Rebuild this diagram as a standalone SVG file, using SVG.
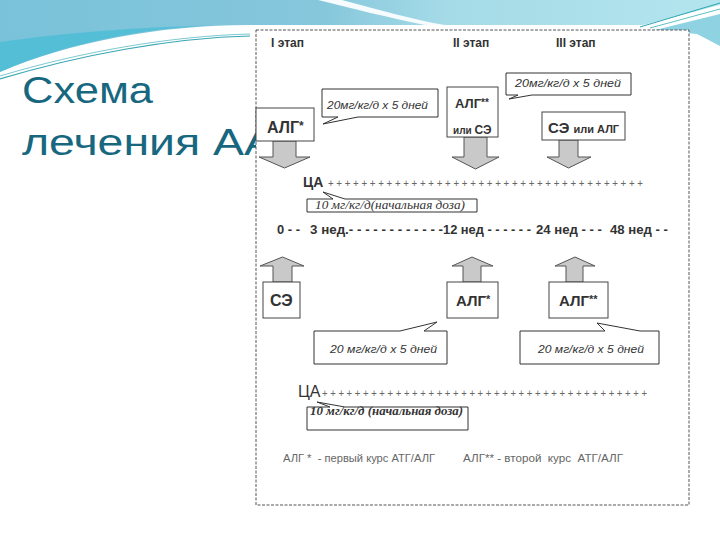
<svg xmlns="http://www.w3.org/2000/svg" width="720" height="540" viewBox="0 0 720 540">
<defs>
<linearGradient id="sky" x1="0" y1="0" x2="1" y2="0">
<stop offset="0" stop-color="#79c2d9"/>
<stop offset="0.45" stop-color="#86c7dc"/>
<stop offset="0.62" stop-color="#a5dbe7"/>
<stop offset="1" stop-color="#b3e5ee"/>
</linearGradient>
<style>
.box{fill:#fff;stroke:#444;stroke-width:1}
.call{fill:#fff;stroke:#333;stroke-width:1}
.arr{fill:#c9c9c9;stroke:#555;stroke-width:1}
.b{font-family:"Liberation Sans",Arial,sans-serif;font-weight:bold;fill:#333}
.it{font-family:"Liberation Sans",Arial,sans-serif;font-style:italic;fill:#333;font-size:11px}
.sf{font-family:"Liberation Serif","Times New Roman",serif;font-style:italic;fill:#333}
.pl{font-family:"Liberation Sans",Arial,sans-serif;fill:#666;font-size:11px}
.lg{font-family:"Liberation Sans",Arial,sans-serif;fill:#666;font-size:10px;white-space:pre}
.pre{white-space:pre}
</style>
</defs>
<rect width="720" height="540" fill="#fff"/>
<g id="background">
<path d="M0,0 H720 V5 L643,25 H250 C160,25 70,42 0,72 Z" fill="url(#sky)"/>
<path d="M0,42 C70,32 150,26 240,25 C150,25 70,42 0,72 Z" fill="#45bcd6" opacity="0.7"/>
<path d="M318,0 H342 C380,10 415,20 445,25 H425 C390,18 350,8 318,0 Z" fill="#f6fcfd"/>
<path d="M655,30 L720,14 V46 L697,34 Z" fill="#8fd3e2"/>
<path d="M640,27 L720,3" stroke="#2aa7b0" stroke-width="1" fill="none"/>
<path d="M650,28 L720,9" stroke="#5cc2c4" stroke-width="1" fill="none"/>
<path d="M0,79 C80,55 170,38 250,36" stroke="#3aa6b4" stroke-width="1.2" fill="none"/>
<path d="M0,76 C80,52 170,36 250,34" stroke="#7cc9d0" stroke-width="1" fill="none"/>
</g>
<g id="title" font-family="'Liberation Sans',Arial,sans-serif" font-size="36" fill="#17687f">
<text x="22" y="103" textLength="131" lengthAdjust="spacingAndGlyphs">Схема</text>
<text x="22" y="155" textLength="253" lengthAdjust="spacingAndGlyphs">лечения АА</text>
</g>
<g id="frame">
<rect x="256" y="30" width="433" height="475" fill="#fff" stroke="#555" stroke-width="1" stroke-dasharray="3 1.5"/>
</g>
<g id="stages" class="b" font-size="12">
<text x="271" y="47">I этап</text>
<text x="453" y="47">II этап</text>
<text x="556" y="47">III этап</text>
</g>
<g id="connectors">
<path class="arr" d="M273,141 H296 V157 H310 L284.5,168 L259,157 H273 Z"/>
<path class="arr" d="M464,137 H487 V157 H499 L475.5,169 L452,157 H464 Z"/>
<path class="arr" d="M559,140 H578 V157 H591 L568.5,168 L547,157 H559 Z"/>
<path class="arr" d="M273,282 V266 H260 L282.5,257 L304,266 H292 V282 Z"/>
<path class="arr" d="M463,282 V266 H452 L472,257 L493,266 H481 V282 Z"/>
<path class="arr" d="M566,282 V266 H555 L575,257 L595,266 H583 V282 Z"/>
</g>
<g id="n-alg1-top">
<rect class="box" x="256" y="108" width="58" height="33"/>
<text class="b" x="267" y="133" font-size="16">АЛГ<tspan font-size="12" dy="-3">*</tspan></text>
</g>
<g id="n-alg2-top">
<rect class="box" x="447" y="87" width="51" height="50"/>
<text class="b" x="455" y="108" font-size="13">АЛГ<tspan font-size="10" dy="-2">**</tspan></text>
<text class="b" x="453" y="134" font-size="10">или <tspan font-size="12">СЭ</tspan></text>
</g>
<g id="n-se-top">
<rect class="box" x="542" y="112" width="83" height="28"/>
<text class="b" x="548" y="133" font-size="15">СЭ <tspan font-size="11">или АЛГ</tspan></text>
</g>
<g id="c-top1">
<path class="call" d="M322,89 H438 V117 H358 L323,124 L338,117 H322 Z"/>
<text class="it" x="327" y="109" textLength="101" lengthAdjust="spacingAndGlyphs">20мг/кг/д х 5 дней</text>
</g>
<g id="c-top2">
<path class="call" d="M506,73 H631 V95 H532 L509,99 L518,95 H506 Z"/>
<text class="it" x="515" y="87" textLength="106" lengthAdjust="spacingAndGlyphs">20мг/кг/д х 5 дней</text>
</g>
<g id="ca-top">
<text class="b" x="303" y="187" font-size="14">ЦА</text>
<text class="pl" x="328" y="187" textLength="315" lengthAdjust="spacingAndGlyphs">+ + + + + + + + + + + + + + + + + + + + + + + + + + + + + + + + + + + + + +</text>
</g>
<g id="c-dose-top">
<path class="call" d="M307,199 H333 L323,192 L345,199 H477 V212 H307 Z"/>
<text class="sf" x="315" y="209" font-size="12" textLength="150" lengthAdjust="spacingAndGlyphs">10 мг/кг/д(начальная доза)</text>
</g>
<g id="timeline" class="b" font-size="12">
<text x="277" y="234" textLength="23" lengthAdjust="spacingAndGlyphs">0 - -</text>
<text x="310" y="234" textLength="133" lengthAdjust="spacingAndGlyphs">3 нед.- - - - - - - - - - - -</text>
<text x="443" y="234" textLength="88" lengthAdjust="spacingAndGlyphs">12 нед - - - - - -</text>
<text x="536" y="234" textLength="66" lengthAdjust="spacingAndGlyphs">24 нед - - -</text>
<text x="610" y="234" textLength="58" lengthAdjust="spacingAndGlyphs">48 нед - -</text>
</g>
<g id="n-se-bottom">
<rect class="box" x="263" y="282" width="37" height="36"/>
<text class="b" x="270" y="306" font-size="16">СЭ</text>
</g>
<g id="n-alg1-bottom">
<rect class="box" x="447" y="282" width="51" height="36"/>
<text class="b" x="456" y="306" font-size="15">АЛГ<tspan font-size="11" dy="-3">*</tspan></text>
</g>
<g id="n-alg2-bottom">
<rect class="box" x="549" y="282" width="59" height="36"/>
<text class="b" x="559" y="306" font-size="15">АЛГ<tspan font-size="11" dy="-3">**</tspan></text>
</g>
<g id="c-bottom1">
<path class="call" d="M314,331 H400 L437,322 L424,331 H447 V364 H314 Z"/>
<text class="it" x="330" y="353" textLength="107" lengthAdjust="spacingAndGlyphs">20 мг/кг/д х 5 дней</text>
</g>
<g id="c-bottom2">
<path class="call" d="M520,331 H605 L597,323 L640,331 H659 V364 H520 Z"/>
<text class="it" x="538" y="353" textLength="106" lengthAdjust="spacingAndGlyphs">20 мг/кг/д х 5 дней</text>
</g>
<g id="ca-bottom">
<text x="298" y="397" font-size="16" font-family="'Liberation Sans',Arial,sans-serif" fill="#333">ЦА</text>
<text class="pl" x="322" y="397" textLength="325" lengthAdjust="spacingAndGlyphs">+ + + + + + + + + + + + + + + + + + + + + + + + + + + + + + + + + + + + + + + +</text>
</g>
<g id="c-dose-bottom">
<path class="call" d="M307,407 H330 L317,402 L345,407 H468 V430 H307 Z"/>
<text class="sf" x="310" y="415" font-size="13" font-weight="bold" textLength="153" lengthAdjust="spacingAndGlyphs">10 мг/кг/д (начальная доза)</text>
</g>
<g id="legend">
<text class="lg" x="283" y="462" textLength="152" lengthAdjust="spacingAndGlyphs">АЛГ *  - первый курс АТГ/АЛГ</text>
<text class="lg" x="463" y="462" textLength="160" lengthAdjust="spacingAndGlyphs">АЛГ** - второй  курс  АТГ/АЛГ</text>
</g>
</svg>
